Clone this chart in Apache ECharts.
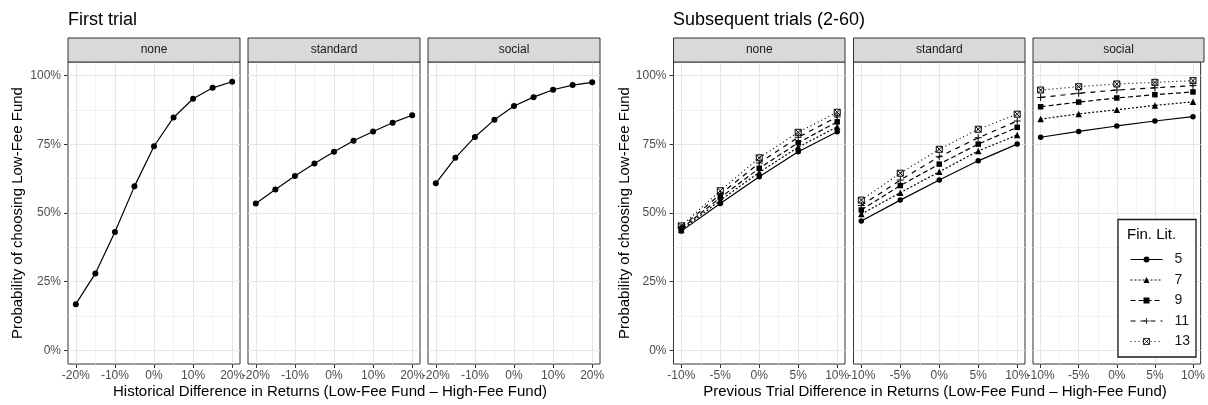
<!DOCTYPE html>
<html>
<head>
<meta charset="utf-8">
<script src="https://cdn.jsdelivr.net/npm/echarts@6/dist/echarts.min.js"></script>
<style>html,body{margin:0;padding:0;background:#fff}#c{width:1208px;height:405px}</style>
</head>
<body>
<div id="c"></div>
<script>
// ---------- data ----------
const xFirst = [-20, -15, -10, -5, 0, 5, 10, 15, 20];
const firstNone     = [0.168, 0.280, 0.431, 0.597, 0.743, 0.848, 0.916, 0.956, 0.978];
const firstStandard = [0.535, 0.586, 0.635, 0.680, 0.723, 0.763, 0.797, 0.829, 0.856];
const firstSocial   = [0.608, 0.701, 0.777, 0.840, 0.890, 0.922, 0.949, 0.966, 0.976];

const xSub = [-10, -5, 0, 5, 10];
const finLit = ['5', '7', '9', '11', '13'];
const subNone5  = [0.434, 0.535, 0.632, 0.723, 0.796];
const subNone7  = [0.438, 0.546, 0.648, 0.740, 0.814];
const subNone9  = [0.443, 0.556, 0.663, 0.756, 0.832];
const subNone11 = [0.448, 0.568, 0.682, 0.776, 0.850];
const subNone13 = [0.453, 0.581, 0.701, 0.794, 0.867];
const subStd5  = [0.471, 0.547, 0.620, 0.690, 0.751];
const subStd7  = [0.496, 0.574, 0.650, 0.726, 0.784];
const subStd9  = [0.511, 0.600, 0.678, 0.751, 0.812];
const subStd11 = [0.527, 0.620, 0.705, 0.774, 0.835];
const subStd13 = [0.547, 0.645, 0.732, 0.805, 0.860];
const subSoc5  = [0.776, 0.797, 0.817, 0.835, 0.851];
const subSoc7  = [0.842, 0.861, 0.876, 0.892, 0.905];
const subSoc9  = [0.887, 0.904, 0.919, 0.931, 0.941];
const subSoc11 = [0.921, 0.936, 0.948, 0.956, 0.964];
const subSoc13 = [0.948, 0.960, 0.970, 0.976, 0.982];

const panelNames = ['none', 'standard', 'social'];
const yTicks = [0, 0.25, 0.5, 0.75, 1];
const yMinor = [0.125, 0.375, 0.625, 0.875];
const xTicksFirst = [-20, -10, 0, 10, 20];
const xMinorFirst = [-15, -5, 5, 15];
const xTicksSub = [-10, -5, 0, 5, 10];
const xMinorSub = [-7.5, -2.5, 2.5, 7.5];

// ---------- layout ----------
const FONT = "'Liberation Sans', Arial, sans-serif";
const TOP = 62, H = 302;
const panels = [
  {left: 68, width: 172}, {left: 248, width: 172}, {left: 428, width: 172},
  {left: 673.5, width: 171.5}, {left: 853.5, width: 171.5}, {left: 1033, width: 171}
];
const firstSeries = [firstNone, firstStandard, firstSocial];
const subSeries = [
  [subNone5, subNone7, subNone9, subNone11, subNone13],
  [subStd5, subStd7, subStd9, subStd11, subStd13],
  [subSoc5, subSoc7, subSoc9, subSoc11, subSoc13]
];
const boxX = 'path://M0,0L10,0L10,10L0,10Z M0,0L10,10 M10,0L0,10';
const plus = 'path://M5,0L5,10 M0,5L10,5';
const styles = [
  {symbol: 'circle', size: 5.5, dash: 'solid', hollow: false},
  {symbol: 'triangle', size: 6.5, dash: [2, 2], hollow: false},
  {symbol: 'rect', size: 5.5, dash: [5, 3], hollow: false},
  {symbol: plus, size: 7, dash: [5, 5], hollow: true},
  {symbol: boxX, size: 6, dash: [1, 3], hollow: true}
];

const grid = [], xAxis = [], yAxis = [], series = [], graphic = [];
panels.forEach((p, i) => {
  grid.push({left: p.left, top: TOP, width: p.width, height: H, show: true,
    borderColor: '#333', borderWidth: 1, backgroundColor: '#fff'});
  const first = i < 3;
  const xmin = first ? -22 : -11, xmax = first ? 22 : 11;
  // main x axis
  xAxis.push({type: 'value', gridIndex: i, min: xmin, max: xmax, position: 'bottom',
    axisLine: {show: false, onZero: false},
    axisTick: {show: true, length: 4, lineStyle: {color: '#333', width: 1}, customValues: first ? xTicksFirst : xTicksSub},
    axisLabel: {show: true, customValues: first ? xTicksFirst : xTicksSub, color: '#4d4d4d', fontSize: 12,
      fontFamily: FONT, margin: 6, formatter: v => v + '%'},
    splitLine: {show: true, lineStyle: {color: '#e6e6e6', width: 1.1}}
  });
  // minor x axis
  xAxis.push({type: 'value', gridIndex: i, min: xmin, max: xmax, position: 'top',
    axisLine: {show: false, onZero: false},
    axisTick: {show: false, customValues: first ? xMinorFirst : xMinorSub},
    axisLabel: {show: false},
    splitLine: {show: true, lineStyle: {color: '#f0f0f0', width: 0.8}}
  });
  yAxis.push({type: 'value', gridIndex: i, min: -0.05, max: 1.05, position: 'left',
    axisLine: {show: false, onZero: false},
    axisTick: {show: i === 0 || i === 3, length: 4, lineStyle: {color: '#333', width: 1}, customValues: yTicks},
    axisLabel: {show: i === 0 || i === 3, customValues: yTicks, color: '#4d4d4d', fontSize: 12,
      fontFamily: FONT, margin: 7, formatter: v => Math.round(v * 100) + '%'},
    splitLine: {show: true, lineStyle: {color: '#e6e6e6', width: 1.1}}
  });
  yAxis.push({type: 'value', gridIndex: i, min: -0.05, max: 1.05, position: 'right',
    axisLine: {show: false, onZero: false},
    axisTick: {show: false, customValues: yMinor},
    axisLabel: {show: false},
    splitLine: {show: true, lineStyle: {color: '#f0f0f0', width: 0.8}}
  });
  // strip
  graphic.push({type: 'rect', z: 3, shape: {x: p.left, y: 38, width: p.width, height: 24},
    style: {fill: '#d9d9d9', stroke: '#333', lineWidth: 1}});
  graphic.push({type: 'text', z: 4, x: p.left + p.width / 2, y: 50,
    style: {text: panelNames[i % 3], fill: '#1a1a1a', font: '12px ' + FONT,
      textAlign: 'center', textVerticalAlign: 'middle'}});

  if (first) {
    series.push({type: 'line', name: 'first-' + panelNames[i], xAxisIndex: 2 * i, yAxisIndex: 2 * i,
      data: xFirst.map((x, k) => [x, firstSeries[i][k]]),
      symbol: 'circle', symbolSize: 6, showSymbol: true,
      lineStyle: {color: '#000', width: 1.2}, itemStyle: {color: '#000'},
      animation: false, z: 2});
  } else {
    subSeries[i - 3].forEach((arr, s) => {
      const st = styles[s];
      series.push({type: 'line', name: finLit[s], xAxisIndex: 2 * i, yAxisIndex: 2 * i,
        data: xSub.map((x, k) => [x, arr[k]]),
        symbol: st.symbol, symbolSize: st.size, showSymbol: true,
        lineStyle: {color: '#000', width: 1.2, type: st.dash},
        itemStyle: st.hollow ? {color: 'rgba(0,0,0,0)', borderColor: '#000', borderWidth: 1}
                             : {color: '#000'},
        animation: false, z: 2});
    });
  }
});

// titles & axis titles
graphic.push({type: 'text', x: 68, y: 20, style: {text: 'First trial', fill: '#000',
  font: '18px ' + FONT, textAlign: 'left', textVerticalAlign: 'middle'}});
graphic.push({type: 'text', x: 673, y: 20, style: {text: 'Subsequent trials (2-60)', fill: '#000',
  font: '18px ' + FONT, textAlign: 'left', textVerticalAlign: 'middle'}});
graphic.push({type: 'text', x: 17.5, y: 213, rotation: Math.PI / 2, style: {text: 'Probability of choosing Low-Fee Fund',
  fill: '#000', font: '15px ' + FONT, textAlign: 'center', textVerticalAlign: 'middle'}});
graphic.push({type: 'text', x: 624.5, y: 213, rotation: Math.PI / 2, style: {text: 'Probability of choosing Low-Fee Fund',
  fill: '#000', font: '15px ' + FONT, textAlign: 'center', textVerticalAlign: 'middle'}});
graphic.push({type: 'text', x: 330, y: 392, style: {text: 'Historical Difference in Returns (Low-Fee Fund \u2013 High-Fee Fund)',
  fill: '#000', font: '15px ' + FONT, textAlign: 'center', textVerticalAlign: 'middle'}});
graphic.push({type: 'text', x: 935, y: 392, style: {text: 'Previous Trial Difference in Returns (Low-Fee Fund \u2013 High-Fee Fund)',
  fill: '#000', font: '15px ' + FONT, textAlign: 'center', textVerticalAlign: 'middle'}});
// legend box + title
graphic.push({type: 'rect', z: 3, shape: {x: 1118, y: 219.5, width: 78, height: 137.5},
  style: {fill: '#fff', stroke: '#1a1a1a', lineWidth: 1.3}});
graphic.push({type: 'text', z: 4, x: 1127, y: 235, style: {text: 'Fin. Lit.', fill: '#000',
  font: '15px ' + FONT, textAlign: 'left', textVerticalAlign: 'middle'}});

const chart = echarts.init(document.getElementById('c'), null, {renderer: 'canvas'});
chart.setOption({
  backgroundColor: '#fff',
  animation: false,
  grid, xAxis, yAxis, series, graphic,
  legend: {data: finLit, orient: 'vertical', left: 1130, top: 252.5, padding: 0,
    itemWidth: 32, itemHeight: 7.5, itemGap: 6.5, z: 5,
    lineStyle: {width: 1},
    itemStyle: {borderWidth: 0.8},
    textStyle: {fontSize: 14, color: '#1a1a1a', fontFamily: FONT, padding: [0, 0, 0, 7]},
    selectedMode: false}
});
</script>
</body>
</html>
